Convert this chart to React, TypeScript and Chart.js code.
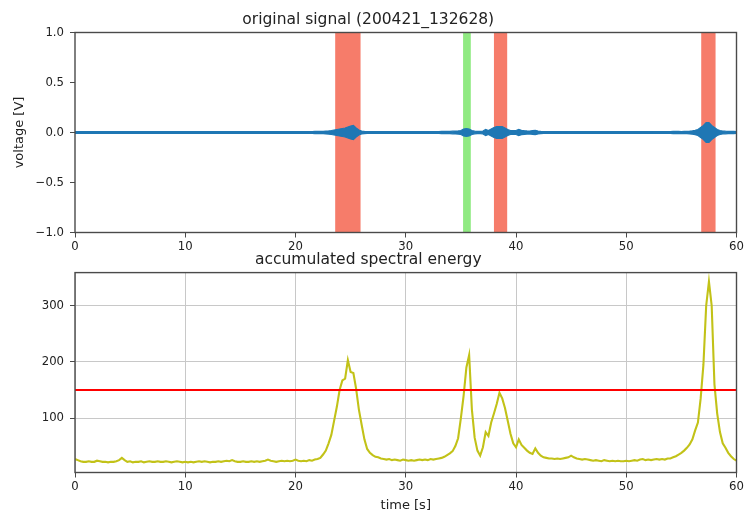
import React, { useEffect, useRef } from "react";
import { Chart, registerables } from "chart.js";

Chart.register(...registerables);

// ---------- data ----------
const X_TICKS = [0, 10, 20, 30, 40, 50, 60];
const SIGNAL_Y_TICKS = [-1, -0.5, 0, 0.5, 1];
const ENERGY_Y_TICKS = [100, 200, 300];
const SAMPLE_STEP_S = 0.25; // time step of the series below, seconds

// half-amplitude envelope of the raw signal (V), one value per 0.25 s, t = 0..60
const SIGNAL_ENVELOPE = [
  0.009, 0.008, 0.008, 0.009, 0.008, 0.008, 0.009, 0.008, 0.008, 0.008, 0.009, 0.008, 0.008, 0.008, 0.009, 0.008, 0.008, 0.010, 0.009, 0.008,
  0.008, 0.008, 0.009, 0.008, 0.008, 0.008, 0.009, 0.008, 0.008, 0.009, 0.008, 0.008, 0.008, 0.009, 0.008, 0.008, 0.008, 0.009, 0.008, 0.008,
  0.008, 0.009, 0.008, 0.008, 0.008, 0.009, 0.008, 0.008, 0.009, 0.008, 0.008, 0.008, 0.009, 0.008, 0.008, 0.009, 0.008, 0.009, 0.008, 0.008,
  0.008, 0.009, 0.008, 0.008, 0.009, 0.008, 0.008, 0.009, 0.008, 0.008, 0.009, 0.008, 0.008, 0.009, 0.008, 0.009, 0.008, 0.008, 0.009, 0.009,
  0.009, 0.009, 0.009, 0.010, 0.009, 0.010, 0.010, 0.011, 0.011, 0.012, 0.012, 0.014, 0.016, 0.020, 0.025, 0.030, 0.035, 0.040, 0.045, 0.055,
  0.065, 0.070, 0.045, 0.025, 0.015, 0.012, 0.010, 0.010, 0.009, 0.009, 0.009, 0.009, 0.009, 0.008, 0.009, 0.008, 0.009, 0.008, 0.009, 0.009,
  0.009, 0.008, 0.009, 0.009, 0.009, 0.009, 0.009, 0.010, 0.009, 0.010, 0.010, 0.010, 0.010, 0.011, 0.011, 0.012, 0.012, 0.013, 0.014, 0.016,
  0.020, 0.035, 0.040, 0.035, 0.020, 0.013, 0.012, 0.011, 0.015, 0.030, 0.020, 0.035, 0.050, 0.060, 0.060, 0.058, 0.045, 0.030, 0.020, 0.018,
  0.020, 0.030, 0.022, 0.018, 0.016, 0.015, 0.020, 0.022, 0.014, 0.011, 0.010, 0.010, 0.010, 0.010, 0.009, 0.010, 0.009, 0.010, 0.009, 0.010,
  0.010, 0.010, 0.009, 0.009, 0.009, 0.008, 0.009, 0.008, 0.008, 0.009, 0.008, 0.008, 0.009, 0.008, 0.008, 0.009, 0.008, 0.008, 0.009, 0.008,
  0.008, 0.009, 0.008, 0.009, 0.009, 0.009, 0.009, 0.009, 0.010, 0.009, 0.010, 0.010, 0.010, 0.010, 0.010, 0.010, 0.010, 0.011, 0.011, 0.011,
  0.010, 0.011, 0.012, 0.014, 0.017, 0.022, 0.030, 0.050, 0.070, 0.100, 0.100, 0.070, 0.050, 0.030, 0.020, 0.015, 0.013, 0.012, 0.011, 0.011,
  0.010,
];

// accumulated spectral energy, one value per 0.25 s, t = 0..60
const ENERGY = [
  27, 25, 23, 22, 22, 23, 22, 22, 24, 23, 22, 22, 21, 22, 22, 23, 25, 29, 25, 22,
  23, 21, 22, 22, 23, 21, 22, 23, 22, 22, 23, 22, 22, 23, 22, 21, 22, 23, 22, 21,
  22, 21, 22, 21, 22, 23, 22, 23, 22, 21, 22, 22, 23, 22, 23, 24, 23, 25, 23, 22,
  22, 23, 22, 22, 23, 22, 23, 22, 23, 24, 26, 24, 23, 22, 23, 24, 23, 24, 23, 24,
  26, 24, 23, 24, 23, 25, 24, 26, 27, 29, 35, 42, 55, 70, 95, 120, 150, 167, 170, 203,
  182, 180, 152, 115, 88, 62, 45, 38, 34, 31, 30, 28, 27, 26, 27, 25, 26, 25, 24, 26,
  25, 24, 25, 24, 25, 26, 25, 26, 25, 27, 26, 27, 28, 29, 31, 34, 37, 41, 50, 64,
  100, 140, 190, 212, 115, 65, 42, 33, 48, 75, 68, 92, 108, 125, 145, 135, 118, 95, 72, 55,
  48, 62, 52, 47, 42, 38, 36, 46, 38, 33, 30, 29, 28, 28, 27, 28, 27, 28, 29, 30,
  33, 30, 28, 27, 26, 27, 26, 25, 24, 25, 24, 23, 25, 24, 23, 24, 23, 24, 23, 23,
  24, 23, 24, 25, 24, 26, 27, 25, 26, 25, 26, 27, 26, 27, 26, 28, 28, 30, 32, 35,
  38, 42, 47, 53, 62, 78, 92, 135, 195, 300, 343, 300, 160, 108, 75, 55, 47, 38, 32, 27,
  24,
];

const THRESHOLD = 150;

// detected events [start s, end s]
const ALARM_SPANS: number[][] = [
  [23.6, 25.9],
  [38.0, 39.2],
  [56.8, 58.1],
];
const OK_SPANS: number[][] = [[35.2, 35.9]];

// ---------- styling ----------
const FONT = "'DejaVu Sans', sans-serif";
const W = 746;
const H = 514;
const AXIS_LEFT = 75;
const PAD_RIGHT = 9.5;
const TEXT = "#222";
const SPINE = "#4a4a4a";

const framePlugin = {
  id: "frame",
  afterDatasetsDraw(chart: any) {
    const { ctx, chartArea: a } = chart;
    ctx.save();
    ctx.strokeStyle = SPINE;
    ctx.lineWidth = 1.4;
    ctx.strokeRect(a.left, a.top, a.right - a.left, a.bottom - a.top);
    ctx.restore();
  },
};

const spansPlugin = {
  id: "spans",
  beforeDatasetsDraw(chart: any, _args: any, opts: any) {
    if (!opts || !opts.items) return;
    const { ctx, chartArea: a, scales } = chart;
    const x = scales.x;
    ctx.save();
    ctx.beginPath();
    ctx.rect(a.left, a.top, a.right - a.left, a.bottom - a.top);
    ctx.clip();
    for (const it of opts.items) {
      ctx.fillStyle = it.color;
      for (const [s, e] of it.spans) {
        const x0 = x.getPixelForValue(s);
        const x1 = x.getPixelForValue(e);
        ctx.fillRect(x0, a.top, x1 - x0, a.bottom - a.top);
      }
    }
    ctx.restore();
  },
};

const fixedTicks = (vals: number[]) => (scale: any) => {
  scale.ticks = vals.map((v) => ({ value: v }));
};

const tickFont = { family: FONT, size: 11.7 };

function SignalChart() {
  const ref = useRef<HTMLCanvasElement>(null);
  useEffect(() => {
    const upper = SIGNAL_ENVELOPE.map((a, i) => ({ x: i * SAMPLE_STEP_S, y: a }));
    const lower = SIGNAL_ENVELOPE.map((a, i) => ({ x: i * SAMPLE_STEP_S, y: -a }));
    const chart = new Chart(ref.current as HTMLCanvasElement, {
      type: "line",
      data: {
        datasets: [
          {
            data: lower,
            borderColor: "#1f77b4",
            borderWidth: 1.2,
            pointRadius: 0,
            fill: false,
          },
          {
            data: upper,
            borderColor: "#1f77b4",
            backgroundColor: "#1f77b4",
            borderWidth: 1.2,
            pointRadius: 0,
            fill: "-1",
          },
        ],
      },
      options: {
        responsive: false,
        animation: false,
        devicePixelRatio: 1,
        layout: { padding: { top: 0, left: 0, right: PAD_RIGHT, bottom: 259.5 } },
        plugins: {
          legend: { display: false },
          tooltip: { enabled: false },
          title: {
            display: true,
            text: "original signal (200421_132628)",
            color: TEXT,
            font: { family: FONT, size: 15.5, weight: "normal" },
            padding: { top: 10.5, bottom: 3.4 },
          },
          spans: {
            items: [
              { color: "rgb(246,124,106)", spans: ALARM_SPANS },
              { color: "rgb(144,234,130)", spans: OK_SPANS },
            ],
          },
        } as any,
        scales: {
          x: {
            type: "linear",
            min: 0,
            max: 60,
            afterBuildTicks: fixedTicks(X_TICKS),
            afterFit: (s: any) => {
              s.height = 22;
            },
            grid: { drawOnChartArea: false, tickLength: 5, tickColor: SPINE },
            border: { display: false },
            ticks: { font: tickFont, color: TEXT, padding: 2, maxRotation: 0, autoSkip: false },
          },
          y: {
            type: "linear",
            min: -1,
            max: 1,
            afterBuildTicks: fixedTicks(SIGNAL_Y_TICKS),
            afterFit: (s: any) => {
              s.width = AXIS_LEFT;
            },
            grid: { drawOnChartArea: false, tickLength: 5, tickColor: SPINE },
            border: { display: false },
            ticks: {
              font: tickFont,
              color: TEXT,
              padding: 6,
              callback: (v: any) => (v < 0 ? "\u2212" : "") + Math.abs(Number(v)).toFixed(1),
            },
            title: {
              display: true,
              text: "voltage [V]",
              color: TEXT,
              font: { family: FONT, size: 13 },
              padding: { top: 12, bottom: 0 },
            },
          },
        },
      } as any,
      plugins: [spansPlugin, framePlugin],
    });
    return () => chart.destroy();
  }, []);
  return (
    <canvas
      ref={ref}
      width={W}
      height={H}
      style={{ position: "absolute", left: 0, top: 0, width: W, height: H }}
    />
  );
}

function EnergyChart() {
  const ref = useRef<HTMLCanvasElement>(null);
  useEffect(() => {
    const energy = ENERGY.map((v, i) => ({ x: i * SAMPLE_STEP_S, y: v }));
    const chart = new Chart(ref.current as HTMLCanvasElement, {
      type: "line",
      data: {
        datasets: [
          {
            data: [
              { x: 0, y: THRESHOLD },
              { x: 60, y: THRESHOLD },
            ],
            borderColor: "#ff0000",
            borderWidth: 2,
            pointRadius: 0,
            order: 0,
          },
          {
            data: energy,
            borderColor: "#c2c218",
            borderWidth: 2.1,
            pointRadius: 0,
            order: 1,
          },
        ],
      },
      options: {
        responsive: false,
        animation: false,
        devicePixelRatio: 1,
        layout: { padding: { top: 251, left: 0, right: PAD_RIGHT, bottom: 1 } },
        plugins: {
          legend: { display: false },
          tooltip: { enabled: false },
          title: {
            display: true,
            text: "accumulated spectral energy",
            color: TEXT,
            font: { family: FONT, size: 15.5, weight: "normal" },
            padding: { top: 0, bottom: 3 },
          },
        },
        scales: {
          x: {
            type: "linear",
            min: 0,
            max: 60,
            afterBuildTicks: fixedTicks(X_TICKS),
            afterFit: (s: any) => {
              s.height = 40.5;
            },
            grid: { color: "#c8c8c8", lineWidth: 1, tickLength: 5, tickColor: SPINE },
            border: { display: false },
            ticks: { font: tickFont, color: TEXT, padding: 2, maxRotation: 0, autoSkip: false },
            title: {
              display: true,
              text: "time [s]",
              color: TEXT,
              font: { family: FONT, size: 13 },
              padding: { top: 0, bottom: 0 },
            },
          },
          y: {
            type: "linear",
            min: 3,
            max: 359,
            afterBuildTicks: fixedTicks(ENERGY_Y_TICKS),
            afterFit: (s: any) => {
              s.width = AXIS_LEFT;
            },
            grid: { color: "#c8c8c8", lineWidth: 1, tickLength: 5, tickColor: SPINE },
            border: { display: false },
            ticks: { font: tickFont, color: TEXT, padding: 6 },
          },
        },
      } as any,
      plugins: [framePlugin],
    });
    return () => chart.destroy();
  }, []);
  return (
    <canvas
      ref={ref}
      width={W}
      height={H}
      style={{ position: "absolute", left: 0, top: 0, width: W, height: H }}
    />
  );
}

export default function App() {
  return (
    <div
      style={{
        position: "fixed",
        left: 0,
        top: 0,
        width: W,
        height: H,
        background: "#ffffff",
        overflow: "hidden",
      }}
    >
      <SignalChart />
      <EnergyChart />
    </div>
  );
}
